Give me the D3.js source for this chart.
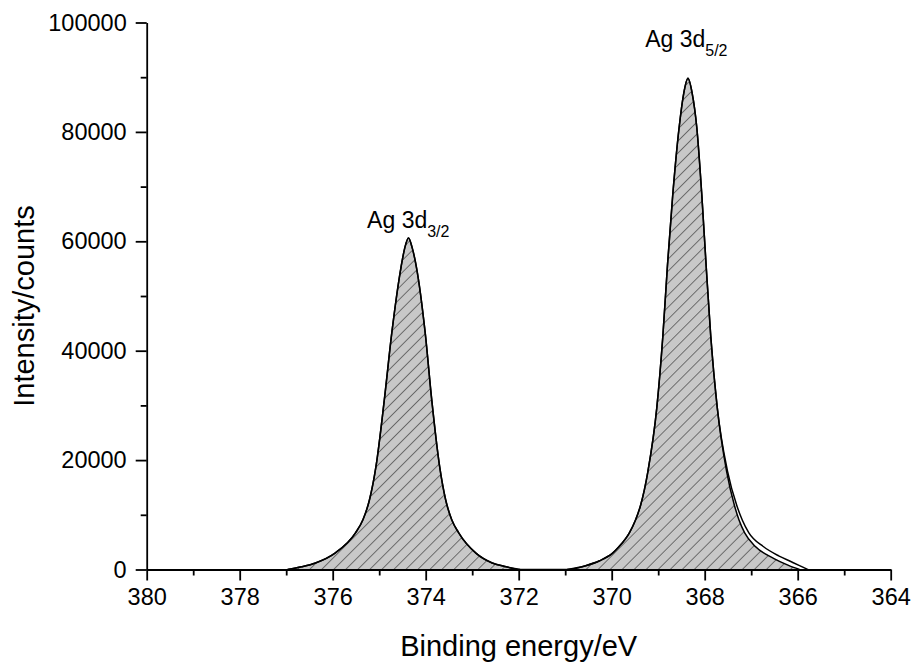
<!DOCTYPE html>
<html>
<head>
<meta charset="utf-8">
<script src="https://cdn.jsdelivr.net/npm/d3@7"></script>
<style>
  body { margin: 0; background: #fff; }
  svg text { font-family: "Liberation Sans", Arial, sans-serif; fill: #000; }
</style>
</head>
<body>
<div id="chart"></div>
<script>
// Ag 3d XPS spectrum
const xTicks = [380, 378, 376, 374, 372, 370, 368, 366, 364];
const yTicks = [0, 20000, 40000, 60000, 80000, 100000];

// Ag 3d3/2 fitted component
const peak1Energy = [376.97, 376.67, 376.37, 375.95, 375.51, 375.35, 375.21, 375.07, 374.89, 374.73, 374.53, 374.45, 374.37,
                     374.29, 374.20, 374.01, 373.87, 373.70, 373.57, 373.44, 373.29, 372.92, 372.57, 372.27, 371.97];
const peak1Counts = [0, 500, 1200, 3000, 6700, 9100, 12700, 18800, 31000, 43200, 55300, 58800, 60600,
                     58800, 55300, 43200, 31000, 18800, 12700, 9100, 6700, 3000, 1200, 500, 0];

// Ag 3d5/2 fitted component
const peak2Energy = [370.96, 370.56, 370.26, 369.98, 369.84, 369.62, 369.49, 369.38, 369.22, 369.03, 368.90, 368.80, 368.69, 368.55, 368.45, 368.36,
                     368.27, 368.17, 368.06, 367.97, 367.87, 367.73, 367.53, 367.36, 367.26, 367.14, 366.91, 366.51, 366.21, 365.96];
const peak2Counts = [0, 700, 1600, 3000, 4200, 6700, 9000, 11700, 18000, 29600, 42700, 55700, 68200, 80800, 87100, 89800,
                     87100, 80800, 68200, 55700, 42700, 29600, 18000, 11700, 9000, 6700, 4200, 2000, 800, 0];

// measured envelope
const envEnergy = [376.97, 376.67, 376.37, 375.95, 375.51, 375.35, 375.21, 375.07, 374.89, 374.73, 374.53, 374.45, 374.37,
                   374.29, 374.20, 374.01, 373.87, 373.70, 373.57, 373.44, 373.29, 372.92, 372.57, 372.27, 371.97, 371.5,
                   370.96, 370.56, 370.26, 369.98, 369.84, 369.62, 369.49, 369.38, 369.22, 369.03, 368.90, 368.80, 368.69, 368.55, 368.45, 368.36,
                   368.27, 368.17, 368.06, 367.97, 367.87, 367.73, 367.51, 367.31, 367.19, 367.05, 366.74, 366.41, 366.16, 365.96, 365.78];
const envCounts = [0, 500, 1200, 3000, 6700, 9100, 12700, 18800, 31000, 43200, 55300, 58800, 60600,
                   58800, 55300, 43200, 31000, 18800, 12700, 9100, 6700, 3000, 1200, 500, 0, 0,
                   0, 700, 1600, 3000, 4200, 6700, 9000, 11700, 18000, 29600, 42700, 55700, 68200, 80800, 87100, 89800,
                   87100, 80800, 68200, 55700, 42700, 29600, 18000, 11700, 9000, 6700, 4200, 2500, 1500, 700, 0];

// label anchors (left edge / baseline, in data units)
const peakLabels = [
    {main: "Ag 3d", sub: "3/2", energy: 375.26, counts: 62400},
    {main: "Ag 3d", sub: "5/2", energy: 369.28, counts: 95500}
];

const W = 912, H = 664;
const margin = {top: 22.5, right: 21.3, bottom: 94.5, left: 146.7};
const width = W - margin.left - margin.right;
const height = H - margin.top - margin.bottom;

const svg = d3.select("#chart").append("svg")
    .attr("width", W)
    .attr("height", H);

// hatch pattern for the fitted peaks
const defs = svg.append("defs");
const pat = defs.append("pattern")
    .attr("id", "hatch")
    .attr("patternUnits", "userSpaceOnUse")
    .attr("width", 8.5)
    .attr("height", 8.5)
    .attr("patternTransform", "rotate(45)");
pat.append("rect").attr("width", 8.5).attr("height", 8.5).attr("fill", "#c8c8c8");
pat.append("line")
    .attr("x1", 0).attr("y1", 0).attr("x2", 0).attr("y2", 8.5)
    .attr("stroke", "#222").attr("stroke-width", 1.1);

const g = svg.append("g").attr("transform", `translate(${margin.left},${margin.top})`);

const x = d3.scaleLinear().domain([380, 364]).range([0, width]);
const y = d3.scaleLinear().domain([0, 100000]).range([height, 0]);

const toPoints = (es, cs) => es.map((e, i) => [e, cs[i]]);

const area = d3.area()
    .x(d => x(d[0]))
    .y0(y(0))
    .y1(d => y(d[1]))
    .curve(d3.curveMonotoneX);
const line = d3.line()
    .x(d => x(d[0]))
    .y(d => y(d[1]))
    .curve(d3.curveMonotoneX);

[toPoints(peak1Energy, peak1Counts), toPoints(peak2Energy, peak2Counts)].forEach(pts => {
    g.append("path")
        .datum(pts)
        .attr("d", area)
        .attr("fill", "url(#hatch)")
        .attr("stroke", "none");
    g.append("path")
        .datum(pts)
        .attr("d", line)
        .attr("fill", "none")
        .attr("stroke", "#000")
        .attr("stroke-width", 1.5);
});

// envelope
g.append("path")
    .datum(toPoints(envEnergy, envCounts))
    .attr("d", line)
    .attr("fill", "none")
    .attr("stroke", "#000")
    .attr("stroke-width", 1.5);

// axes
g.append("g")
    .attr("transform", `translate(0,${height})`)
    .call(d3.axisBottom(x).tickValues(xTicks).tickSize(11).tickSizeOuter(0).tickPadding(8).tickFormat(d3.format("d")));
const xMinor = g.append("g")
    .attr("transform", `translate(0,${height})`)
    .call(d3.axisBottom(x).tickValues(d3.range(379, 364, -2)).tickSize(6).tickFormat(""));
xMinor.select(".domain").remove();

g.append("g")
    .call(d3.axisLeft(y).tickValues(yTicks).tickSize(11).tickSizeOuter(0).tickPadding(9).tickFormat(d3.format("d")));
const yMinor = g.append("g")
    .call(d3.axisLeft(y).tickValues(d3.range(10000, 100000, 20000)).tickSize(6).tickFormat(""));
yMinor.select(".domain").remove();

svg.selectAll(".domain, .tick line").attr("stroke", "#000").attr("stroke-width", 1.8);
svg.selectAll(".tick text").style("font-size", "23.5px").attr("fill", "#000");

// axis titles
svg.append("text")
    .attr("x", margin.left + width / 2)
    .attr("y", 656)
    .attr("text-anchor", "middle")
    .style("font-size", "29px")
    .text("Binding energy/eV");

svg.append("text")
    .attr("transform", `translate(34,306) rotate(-90)`)
    .attr("text-anchor", "middle")
    .style("font-size", "29px")
    .text("Intensity/counts");

// peak labels
peakLabels.forEach(p => {
    const t = g.append("text")
        .attr("x", x(p.energy))
        .attr("y", y(p.counts))
        .attr("text-anchor", "start")
        .style("font-size", "23px");
    t.append("tspan").text(p.main);
    t.append("tspan").attr("dy", 9).style("font-size", "16px").text(p.sub);
});
</script>
</body>
</html>
